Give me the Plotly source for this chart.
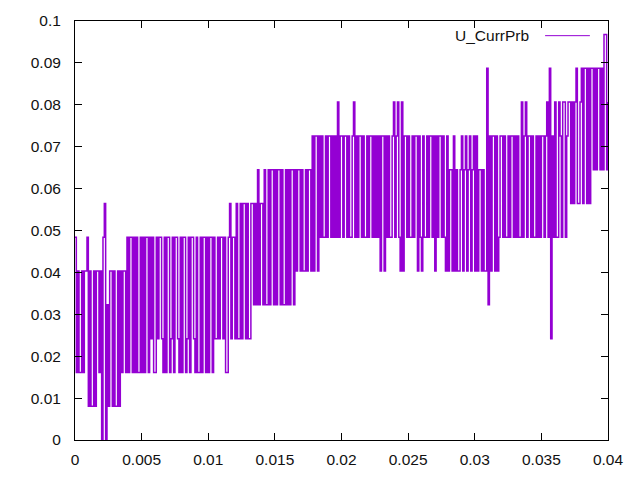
import plotly.graph_objects as go

# Time step between samples (s) and PRB quantum (the signal takes values k * PRB_STEP)
T_STEP = 0.0001
PRB_STEP = 1 / 124

# Level codes (k), in chunks of 50 samples
levels_a = [6, 2, 5, 2, 2, 5, 2, 5, 5, 6,
            1, 5, 1, 1, 5, 1, 5, 5, 2, 5,
            0, 6, 7, 0, 4, 1, 5, 5, 1, 5,
            1, 1, 5, 1, 5, 2, 5, 5, 2, 6,
            2, 6, 6, 2, 6, 2, 6, 2, 2, 6]
levels_b = [2, 6, 2, 6, 6, 2, 6, 3, 6, 2,
            2, 6, 3, 6, 6, 3, 2, 6, 2, 6,
            6, 2, 3, 6, 2, 6, 6, 3, 2, 6,
            2, 6, 6, 2, 3, 6, 2, 6, 6, 3,
            2, 6, 2, 2, 6, 2, 6, 6, 2, 6]
levels_c = [2, 6, 6, 2, 6, 3, 3, 6, 3, 6,
            6, 3, 6, 2, 2, 6, 7, 3, 6, 6,
            3, 7, 3, 3, 7, 3, 7, 7, 3, 7,
            3, 3, 7, 7, 4, 7, 4, 8, 4, 7,
            7, 4, 8, 4, 4, 8, 4, 8, 8, 4]
levels_d = [8, 4, 8, 8, 4, 8, 4, 4, 8, 4,
            8, 4, 8, 8, 4, 8, 5, 8, 8, 5,
            8, 5, 5, 8, 5, 8, 8, 5, 9, 5,
            9, 9, 5, 9, 6, 9, 6, 6, 9, 6,
            9, 9, 6, 9, 6, 9, 6, 10, 6, 9]
levels_e = [9, 6, 9, 9, 6, 9, 6, 6, 9, 10,
            6, 9, 6, 9, 9, 6, 9, 6, 6, 9,
            6, 9, 9, 6, 9, 6, 9, 6, 9, 5,
            9, 9, 5, 9, 6, 9, 6, 6, 9, 10,
            6, 9, 10, 6, 5, 10, 5, 9, 9, 6]
levels_f = [9, 6, 6, 9, 6, 9, 9, 5, 9, 6,
            5, 9, 6, 6, 9, 6, 9, 9, 6, 9,
            5, 9, 6, 9, 9, 6, 9, 6, 5, 9,
            5, 8, 8, 5, 9, 5, 8, 5, 5, 8,
            9, 5, 8, 9, 5, 8, 9, 5, 8, 9]
levels_g = [5, 9, 5, 8, 8, 5, 8, 5, 5, 11,
            4, 9, 5, 9, 9, 5, 9, 5, 6, 9,
            9, 6, 9, 6, 6, 9, 6, 9, 9, 6,
            9, 6, 9, 6, 6, 10, 6, 9, 10, 6,
            9, 9, 6, 9, 6, 6, 9, 6, 9, 6]
levels_h = [9, 9, 6, 9, 10, 6, 11, 3, 9, 6,
            10, 6, 6, 10, 9, 6, 10, 10, 6, 9,
            10, 10, 7, 10, 7, 10, 11, 7, 7, 10,
            11, 7, 11, 11, 7, 11, 7, 11, 11, 8,
            11, 8, 11, 11, 8, 11, 8, 12, 12, 8, 10]

x_ticks = [0, 0.005, 0.01, 0.015, 0.02, 0.025, 0.03, 0.035, 0.04]
x_labels = ["0", "0.005", "0.01", "0.015", "0.02", "0.025", "0.03", "0.035", "0.04"]
y_ticks = [0, 0.01, 0.02, 0.03, 0.04, 0.05, 0.06, 0.07, 0.08, 0.09, 0.1]
y_labels = ["0", "0.01", "0.02", "0.03", "0.04", "0.05", "0.06", "0.07", "0.08", "0.09", "0.1"]

codes = levels_a + levels_b + levels_c + levels_d + levels_e + levels_f + levels_g + levels_h
xs = [i * T_STEP for i in range(len(codes))]
ys = [k * PRB_STEP for k in codes]

COLOR = "#9400D3"
FONT = "Liberation Sans, Arial, sans-serif"
FSIZE = 15.5

fig = go.Figure()
fig.add_trace(go.Scatter(x=xs, y=ys, mode="lines", name="U_CurrPrb",
                         line=dict(color=COLOR, width=1.5, simplify=False, shape="hv"),
                         showlegend=False))

axis_common = dict(showgrid=False, zeroline=False, showline=True, linecolor="black",
                   linewidth=1, mirror="ticks", ticks="inside", ticklen=7,
                   tickcolor="black", tickwidth=1,
                   tickfont=dict(family=FONT, size=FSIZE, color="#111111"))
fig.update_xaxes(range=[0, 0.04], tickvals=x_ticks, ticktext=x_labels,
                 ticklabelstandoff=5, **axis_common)
fig.update_yaxes(range=[0, 0.1], tickvals=y_ticks, ticktext=y_labels,
                 ticklabelstandoff=10, **axis_common)

# gnuplot-style key: text to the left of the line sample
fig.add_annotation(x=0.856, y=0.965, xref="paper", yref="paper", text="U_CurrPrb",
                   showarrow=False, xanchor="right", yanchor="middle",
                   font=dict(family=FONT, size=FSIZE, color="#111111"))
fig.add_shape(type="line", xref="paper", yref="paper", x0=0.882, x1=0.966,
              y0=0.965, y1=0.965, line=dict(color=COLOR, width=1))

fig.update_layout(width=640, height=480, margin=dict(l=75, r=32, t=18, b=40),
                  plot_bgcolor="white", paper_bgcolor="white", showlegend=False)

fig.write_html("out.html", config={"displayModeBar": False},
               post_script="document.body.style.margin='0';document.body.style.overflow='hidden';")
